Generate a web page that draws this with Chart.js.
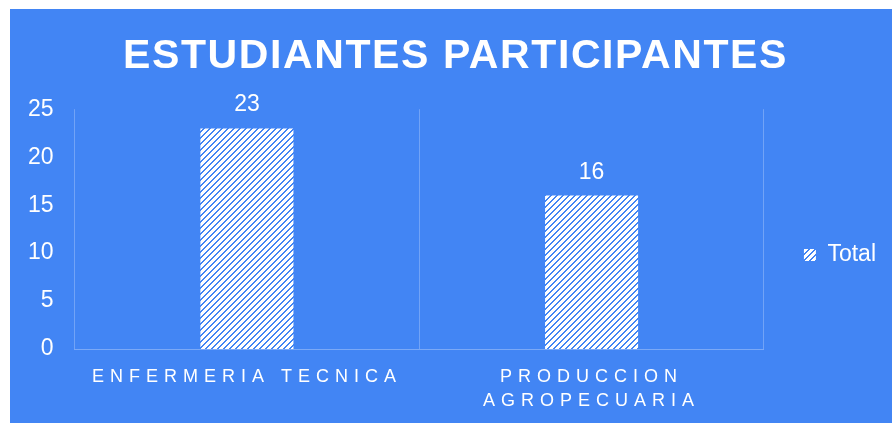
<!DOCTYPE html>
<html lang="en">
  <head>
    <meta charset="utf-8" />
    <title>Estudiantes participantes</title>
    <style>
      * {
        margin: 0;
        padding: 0;
      }
      body {
        background: #ffffff;
        width: 892px;
        height: 423px;
        overflow: hidden;
      }
      .chartBox {
        position: absolute;
        left: 10px;
        top: 9px;
        width: 882px;
        height: 414px;
        background: #4285f4;
      }
    </style>
  </head>
  <body>
    <div class="chartBox">
      <canvas id="myChart" width="882" height="414"></canvas>
    </div>

    <script src="https://cdn.jsdelivr.net/npm/chart.js@4/dist/chart.umd.min.js"></script>

    <script>
      // data
      const categories = [
        ["ENFERMERIA TECNICA"],
        ["PRODUCCION", "AGROPECUARIA"],
      ];
      const totals = [23, 16];
      const yTicks = [0, 5, 10, 15, 20, 25];

      const FONT = "'Liberation Sans', Arial, sans-serif";
      const BLUE = "#4285f4";

      // white fill with blue "/" stripes
      const makeHatch = () => {
        const c = document.createElement("canvas");
        c.width = 6;
        c.height = 6;
        const g = c.getContext("2d");
        g.fillStyle = "#ffffff";
        g.fillRect(0, 0, 6, 6);
        g.fillStyle = BLUE;
        for (let y = 0; y < 6; y++) {
          for (let x = 0; x < 6; x++) {
            if ((x + y) % 6 < 2) g.fillRect(x, y, 1, 1);
          }
        }
        return g.createPattern(c, "repeat");
      };
      const hatch = makeHatch();

      // value labels above the bars
      const barValues = {
        id: "barValues",
        afterDatasetsDraw(chart) {
          const { ctx } = chart;
          const meta = chart.getDatasetMeta(0);
          ctx.save();
          ctx.fillStyle = "#ffffff";
          ctx.font = "23px " + FONT;
          ctx.textAlign = "center";
          ctx.textBaseline = "alphabetic";
          meta.data.forEach((bar, i) => {
            ctx.fillText(chart.data.datasets[0].data[i], bar.x, bar.y - 17);
          });
          ctx.restore();
        },
      };

      // letter spacing for the title and category labels,
      // and legend nudged down a bit
      const withSpacing = (fn, spacing, dx) =>
        function (...args) {
          const ctx = this.ctx;
          ctx.save();
          ctx.letterSpacing = spacing + "px";
          ctx.translate(dx, 0);
          fn.apply(this, args);
          ctx.restore();
        };

      const tweaks = {
        id: "tweaks",
        afterLayout(chart) {
          const lg = chart.legend;
          lg.top += 36;
          lg.bottom += 36;
          const x = chart.scales.x;
          if (!x._spaced) {
            x.drawLabels = withSpacing(x.drawLabels, 6, 0);
            x._spaced = true;
          }
          const t = chart.titleBlock;
          if (t && !t._spaced) {
            t.draw = withSpacing(t.draw, 1.6, 5);
            t._spaced = true;
          }
        },
      };

      const config = {
        type: "bar",
        data: {
          labels: categories,
          datasets: [
            {
              label: "Total",
              data: totals,
              backgroundColor: hatch,
              borderWidth: 0,
              categoryPercentage: 1,
              barPercentage: 0.27,
            },
          ],
        },
        options: {
          responsive: false,
          animation: false,
          layout: {
            padding: { left: 5, right: 6, top: 0, bottom: -6 },
          },
          scales: {
            x: {
              grid: {
                offset: true,
                color: "rgba(255,255,255,0.25)",
                lineWidth: 1,
                drawTicks: false,
              },
              border: { color: "rgba(255,255,255,0.3)" },
              ticks: {
                color: "#ffffff",
                font: { family: FONT, size: 18, lineHeight: 1.33 },
                padding: 16,
                maxRotation: 0,
              },
            },
            y: {
              min: 0,
              max: 25,
              afterBuildTicks(axis) {
                axis.ticks = yTicks.map((v) => ({ value: v }));
              },
              grid: { display: false },
              border: { display: false },
              ticks: {
                color: "#ffffff",
                font: { family: FONT, size: 23 },
                padding: 13,
              },
            },
          },
          plugins: {
            title: {
              display: true,
              text: "ESTUDIANTES PARTICIPANTES",
              color: "#ffffff",
              font: { family: FONT, size: 41, weight: "bold", lineHeight: 1.2 },
              padding: { top: 23, bottom: 28 },
            },
            legend: {
              position: "right",
              labels: {
                color: "#ffffff",
                boxWidth: 12,
                boxHeight: 12,
                padding: 40,
                font: { family: FONT, size: 23 },
              },
            },
            tooltip: { enabled: false },
          },
        },
        plugins: [barValues, tweaks],
      };

      const myChart = new Chart(document.getElementById("myChart"), config);
    </script>
  </body>
</html>
